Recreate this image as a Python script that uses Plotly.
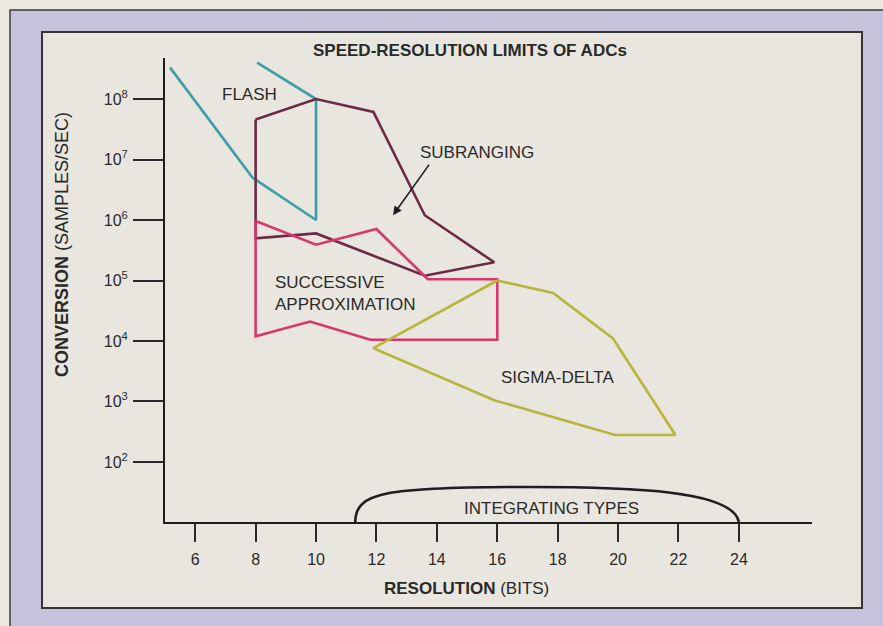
import math
import plotly.graph_objects as go

# ---- data -------------------------------------------------------------
flash_bits = [5.17, 7.9, 10.0, 10.0, 8.05]
flash_rate = [3.3e8, 5.0e6, 1.0e6, 1.0e8, 4.0e8]

subranging_bits = [8.0, 10.0, 11.9, 13.6, 15.9, 13.6, 10.0, 8.0, 8.0]
subranging_rate = [4.6e7, 1.0e8, 6.1e7, 1.2e6, 2.0e5, 1.2e5, 6.0e5, 5.0e5, 4.6e7]

sar_bits = [8.0, 10.0, 12.0, 13.7, 16.0, 16.0, 11.8, 9.8, 8.0, 8.0]
sar_rate = [9.6e5, 3.9e5, 7.1e5, 1.05e5, 1.05e5, 1.05e4, 1.05e4, 2.1e4, 1.2e4, 9.6e5]

sigma_bits = [16.0, 17.85, 19.83, 21.9, 19.9, 15.9, 11.9, 16.0]
sigma_rate = [1.0e5, 6.2e4, 1.1e4, 2.8e2, 2.8e2, 1.05e3, 7.6e3, 1.0e5]

x_ticks = [6, 8, 10, 12, 14, 16, 18, 20, 22, 24]
y_ticks = [1e2, 1e3, 1e4, 1e5, 1e6, 1e7, 1e8]
y_tick_text = ["10<sup>2</sup>", "10<sup>3</sup>", "10<sup>4</sup>", "10<sup>5</sup>",
               "10<sup>6</sup>", "10<sup>7</sup>", "10<sup>8</sup>"]

region_labels = ["FLASH", "SUBRANGING", "SUCCESSIVE<br>APPROXIMATION", "SIGMA-DELTA"]
label_bits = [7.79, 15.33, 8.58, 18.0]
label_rate = [1.2e8, 1.3e7, 6.2e4, 2.5e3]

# integrating types span (bits)
integ_start, integ_end = 11.3, 24.0

# ---- layout geometry --------------------------------------------------
W, H = 883, 626
ML, MR, MT, MB = 165, 71, 58, 104
PW, PH = W - ML - MR, H - MT - MB


def px(x):
    return (x - ML) / PW


def py(y):
    return (H - MB - y) / PH


FONT = "Liberation Sans, Arial, Helvetica, sans-serif"
TXT = "#2a2a2a"
LAV = "#c6c2db"
CREAM = "#ebe8e0"
PANEL = "#e9e6df"
FS = 17

fig = go.Figure()

series = [
    (flash_bits, flash_rate, "#3d9ea6"),
    (subranging_bits, subranging_rate, "#6c2b45"),
    (sar_bits, sar_rate, "#d9376c"),
    (sigma_bits, sigma_rate, "#b9b43c"),
]
for xs, ys, col in series:
    fig.add_trace(go.Scatter(x=xs, y=ys, mode="lines",
                             line=dict(color=col, width=2.6),
                             hoverinfo="skip", showlegend=False))

shapes = [
    # outer lavender frame
    dict(type="rect", xref="paper", yref="paper", layer="below",
         x0=px(10), x1=px(900), y0=py(640), y1=py(10),
         fillcolor=LAV, line=dict(color="#3a3a3a", width=1.5)),
    # inner panel
    dict(type="rect", xref="paper", yref="paper", layer="below",
         x0=px(42), x1=px(862), y0=py(608), y1=py(32),
         fillcolor=PANEL, line=dict(color="#333333", width=2)),
]

# bracket arc over the integrating-types range
top = py(487)
mid = integ_start + 0.45 * (integ_end - integ_start)
path = (f"M {integ_start},0 "
        f"C {integ_start},{top*0.85} {integ_start+1.0},{top} {mid},{top} "
        f"C {integ_end-3.5},{top} {integ_end-0.2},{top*0.9} {integ_end},0")
shapes.append(dict(type="path", xref="x", yref="paper", path=path,
                   line=dict(color="#1e1e1e", width=2.6)))

annotations = []
for t, xb, yr in zip(region_labels, label_bits, label_rate):
    left = "<br>" in t
    annotations.append(dict(
        x=xb, y=math.log10(yr), xref="x", yref="y",
        text=t, showarrow=False, align="left",
        xanchor="left" if left else "center", yanchor="middle",
        font=dict(family=FONT, size=FS, color=TXT)))

# pointer toward the subranging region
annotations.append(dict(
    x=12.55, y=6.08, ax=13.78, ay=6.94, xref="x", yref="y",
    axref="x", ayref="y", text="", showarrow=True,
    arrowhead=2, arrowsize=1.1, arrowwidth=1.6, arrowcolor="#1e1e1e"))

annotations.append(dict(
    x=17.78, y=py(508), xref="x", yref="paper", text="INTEGRATING TYPES",
    showarrow=False, yanchor="middle",
    font=dict(family=FONT, size=FS, color=TXT)))

annotations.append(dict(
    x=px(311), y=py(51), xref="paper", yref="paper", xanchor="left",
    yanchor="middle", text="<b>SPEED-RESOLUTION LIMITS OF ADCs</b>",
    showarrow=False, font=dict(family=FONT, size=FS, color=TXT)))

annotations.append(dict(
    x=px(466), y=py(588), xref="paper", yref="paper", yanchor="middle",
    text="<b>RESOLUTION</b> (BITS)", showarrow=False,
    font=dict(family=FONT, size=FS, color=TXT)))

annotations.append(dict(
    x=px(62), y=py(245), xref="paper", yref="paper", textangle=-90,
    xanchor="center", yanchor="middle",
    text="<b>CONVERSION</b> (SAMPLES/SEC)", showarrow=False,
    font=dict(family=FONT, size=18, color=TXT)))

fig.update_layout(
    width=W, height=H,
    margin=dict(l=ML, r=MR, t=MT, b=MB, pad=0),
    paper_bgcolor=CREAM, plot_bgcolor="rgba(0,0,0,0)",
    shapes=shapes, annotations=annotations,
    showlegend=False,
)

fig.update_xaxes(
    range=[5.0, 26.42], tickvals=x_ticks, ticks="outside", ticklen=18,
    tickwidth=2, tickcolor="#2a2a2a", showline=True, linecolor="#1e1e1e",
    linewidth=2, showgrid=False, zeroline=False, ticklabelstandoff=4,
    tickfont=dict(family=FONT, size=16, color=TXT), fixedrange=True)

fig.update_yaxes(
    type="log", range=[1.008, 8.678], tickvals=y_ticks, ticktext=y_tick_text,
    ticks="outside", ticklen=30, tickwidth=2, tickcolor="#2a2a2a",
    showline=True, linecolor="#1e1e1e", linewidth=2, showgrid=False,
    zeroline=False, ticklabelstandoff=2,
    tickfont=dict(family=FONT, size=16, color=TXT), fixedrange=True)

fig.write_html("out.html")
